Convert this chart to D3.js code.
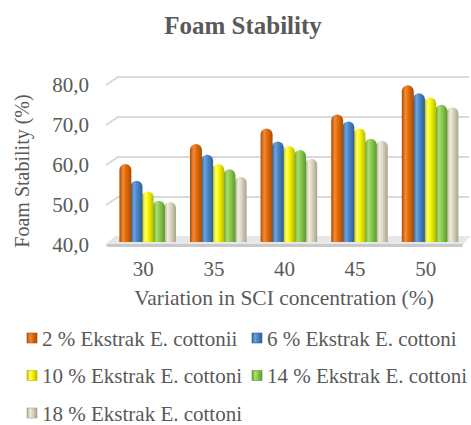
<!DOCTYPE html>
<html>
<head>
<meta charset="utf-8">
<script src="https://cdn.jsdelivr.net/npm/d3@7"></script>
<style>
  body { margin: 0; background: #fff; }
  svg text { font-family: "Liberation Serif", "Times New Roman", serif; fill: #595959; }
</style>
</head>
<body>
<div id="chart"></div>
<script>
// values
const categories = ['30', '35', '40', '45', '50']
const seriesNames = ['2 % Ekstrak E. cottonii', '6 % Ekstrak E. cottoni', '10 % Ekstrak E. cottoni',
  '14 % Ekstrak E. cottoni', '18 % Ekstrak E. cottoni']
const s2 = [59.5, 64.5, 68.4, 71.9, 79.2]
const s6 = [55.3, 61.8, 65.1, 70.1, 77.2]
const s10 = [52.6, 59.5, 64.0, 68.4, 76.1]
const s14 = [50.3, 58.2, 63.0, 65.8, 74.3]
const s18 = [50.0, 56.3, 60.8, 65.3, 73.7]
const yTicks = [40, 50, 60, 70, 80]
const colorSet = ['#E46C0A', '#4A86C8', '#F5F500', '#8CCB4E', '#DDD8C4']
const darkSet = ['#A84C05', '#2F5F97', '#B8B800', '#5E9A2C', '#A9A38B']
const lightSet = ['#F58A35', '#6FA3DC', '#FFFF66', '#A9DE73', '#EFECDD']

const allSeries = [s2, s6, s10, s14, s18]

const width = 471
const height = 425

const svg = d3.select('#chart').append('svg')
  .attr('width', width)
  .attr('height', height)
  .attr('font-family', '"Liberation Serif", "Times New Roman", serif')

// gradients for the rounded 3d-ish columns
const defs = svg.append('defs')
colorSet.forEach((c, i) => {
  const g = defs.append('linearGradient')
    .attr('id', 'grad' + i)
    .attr('x1', '0%').attr('x2', '100%').attr('y1', '0%').attr('y2', '0%')
  g.append('stop').attr('offset', '0%').attr('stop-color', darkSet[i])
  g.append('stop').attr('offset', '30%').attr('stop-color', lightSet[i])
  g.append('stop').attr('offset', '55%').attr('stop-color', c)
  g.append('stop').attr('offset', '100%').attr('stop-color', darkSet[i])
})

// title
svg.append('text')
  .attr('x', 243).attr('y', 34)
  .attr('text-anchor', 'middle')
  .style('font-size', '25px').style('font-weight', 'bold')
  .text('Foam Stability')

// front-of-wall scale used for tick labels and gridlines
const yFront = d3.scaleLinear().domain([40, 80]).range([245, 85])
// bar scale (bars stand a little behind the front edge)
const y = d3.scaleLinear().domain([40, 80]).range([242, 82])

const x = d3.scaleBand().domain(categories).range([112, 465])
  .paddingInner(0.21).paddingOuter(0.105)
const xInner = d3.scaleBand().domain(d3.range(seriesNames.length)).range([0, x.bandwidth()])

const depthX = 12
const depthY = 8
const wallLeft = 106
const wallRight = 469

// gridlines
svg.append('g').selectAll('polyline')
  .data(yTicks.filter(d => d > 40))
  .join('polyline')
  .attr('points', d => {
    const yf = yFront(d)
    return `${wallLeft},${yf} ${wallLeft + depthX},${yf - depthY} ${wallRight},${yf - depthY}`
  })
  .attr('fill', 'none')
  .attr('stroke', '#d9d9d9')
  .attr('stroke-width', 2)

// floor
const yf0 = yFront(40) - 1
svg.append('polygon')
  .attr('points', `${wallLeft},${yf0} ${wallLeft + depthX - 3},${yf0 - depthY} ${wallRight + 2},${yf0 - depthY} ${wallRight - 6},${yf0}`)
  .attr('fill', '#e7e7e7')
svg.append('polygon')
  .attr('points', `${wallLeft},${yf0} ${wallRight - 6},${yf0} ${wallRight - 7},${yf0 + 3} ${wallLeft + 1},${yf0 + 3}`)
  .attr('fill', '#c9c9c9')

// y tick labels
svg.append('g').selectAll('text')
  .data(yTicks)
  .join('text')
  .attr('x', 89)
  .attr('y', d => yFront(d))
  .attr('dy', '0.35em')
  .attr('text-anchor', 'end')
  .style('font-size', '21px')
  .text(d => d3.format('.1f')(d).replace('.', ','))

// bars
function barPath(x0, w, top, bottom) {
  const r = w / 2
  const p = d3.path()
  p.moveTo(x0, bottom)
  p.lineTo(x0, top + r)
  p.arc(x0 + r, top + r, r, Math.PI, 0)
  p.lineTo(x0 + w, bottom)
  p.closePath()
  return p.toString()
}

const barW = xInner.bandwidth() + 0.8
categories.forEach((cat, ci) => {
  for (let si = allSeries.length - 1; si >= 0; si--) {
    const v = allSeries[si][ci]
    svg.append('path')
      .datum(v)
      .attr('d', d => barPath(x(cat) + xInner(si), barW, y(d), y(40)))
      .attr('fill', `url(#grad${si})`)
  }
})

// x tick labels
svg.append('g').selectAll('text')
  .data(categories)
  .join('text')
  .attr('x', d => x(d) + x.bandwidth() / 2 - 4)
  .attr('y', 276)
  .attr('text-anchor', 'middle')
  .style('font-size', '21px')
  .text(d => d)

// axis titles
svg.append('text')
  .attr('x', 284).attr('y', 305)
  .attr('text-anchor', 'middle')
  .style('font-size', '21.5px')
  .text('Variation in SCI concentration (%)')

svg.append('text')
  .attr('transform', 'translate(29,171) rotate(-90)')
  .attr('text-anchor', 'middle')
  .style('font-size', '20px')
  .text('Foam Stability (%)')

// legend
const legendPos = [[27, 333], [252, 333], [27, 370.5], [252, 370.5], [27, 408]]
const legend = svg.append('g').selectAll('g')
  .data(seriesNames)
  .join('g')
  .attr('transform', (d, i) => `translate(${legendPos[i][0]},${legendPos[i][1]})`)
legend.append('rect')
  .attr('width', 10).attr('height', 10)
  .attr('fill', (d, i) => `url(#grad${i})`)
  .attr('stroke', (d, i) => darkSet[i])
  .attr('stroke-width', 0.6)
legend.append('text')
  .attr('x', 15)
  .attr('y', 12.5)
  .style('font-size', '21px')
  .text(d => d)
</script>
</body>
</html>
